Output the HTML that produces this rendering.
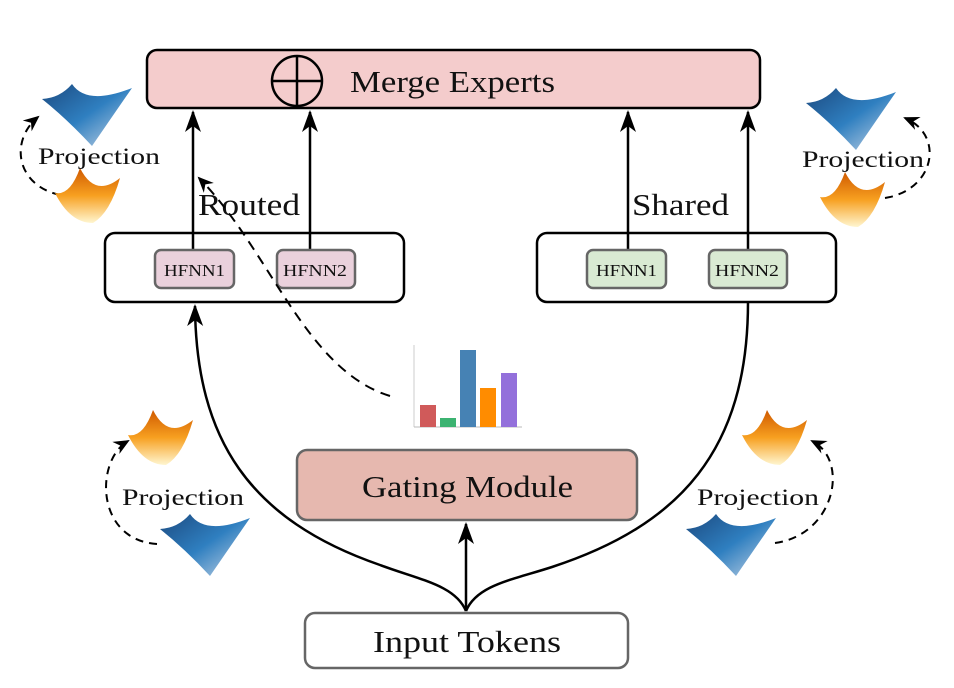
<!DOCTYPE html>
<html><head><meta charset="utf-8"><style>
html,body{margin:0;padding:0;background:#fff}
svg{display:block}
text{font-family:"Liberation Serif",serif;fill:#111}
</style></head><body>
<svg width="954" height="688" viewBox="0 0 954 688" xmlns="http://www.w3.org/2000/svg">
<defs>
<linearGradient id="gb" x1="0" y1="0" x2="1" y2="1">
<stop offset="0" stop-color="#1c4a80"/><stop offset="0.5" stop-color="#2f7fc0"/><stop offset="1" stop-color="#c9d6e6"/></linearGradient>
<linearGradient id="go" x1="0" y1="0" x2="0" y2="1">
<stop offset="0" stop-color="#d05a00"/><stop offset="0.5" stop-color="#f7a020"/><stop offset="1" stop-color="#fff6d0"/></linearGradient>
<marker id="ar" markerWidth="24" markerHeight="18" refX="20" refY="9" orient="auto" markerUnits="userSpaceOnUse">
<path d="M0,1 L22,9 L0,17 L6,9Z" fill="#000"/></marker>
<marker id="ad" markerWidth="18" markerHeight="16" refX="14" refY="8" orient="auto" markerUnits="userSpaceOnUse">
<path d="M0,1 L16,8 L0,15 L5,8Z" fill="#000"/></marker>
<path id="blue" d="M0,15 Q18,14 30,0 Q45,22 90,4 Q72,30 50,62 Q25,35 0,15Z" fill="url(#gb)"/>
<path id="org" d="M0,25 Q15,28 25,0 Q40,30 65,10 Q55,45 38,55 Q15,55 0,25Z" fill="url(#go)"/>
</defs>

<rect x="147" y="50" width="613" height="58" rx="10" fill="#f4cccc" stroke="#000" stroke-width="2.5"/>
<circle cx="297" cy="81" r="25" fill="none" stroke="#000" stroke-width="2.5"/>
<line x1="272" y1="81" x2="322" y2="81" stroke="#000" stroke-width="2.5"/>
<line x1="297" y1="56" x2="297" y2="106" stroke="#000" stroke-width="2.5"/>
<text x="350" y="92" font-size="31" textLength="205" lengthAdjust="spacingAndGlyphs">Merge Experts</text>

<g stroke="#000" stroke-width="2.5">
<line x1="193" y1="250" x2="193" y2="112" marker-end="url(#ar)"/>
<line x1="310" y1="250" x2="310" y2="112" marker-end="url(#ar)"/>
<line x1="628" y1="250" x2="628" y2="112" marker-end="url(#ar)"/>
<line x1="748" y1="250" x2="748" y2="112" marker-end="url(#ar)"/>
</g>
<text x="198" y="215" font-size="31" textLength="102" lengthAdjust="spacingAndGlyphs">Routed</text>
<text x="632" y="215" font-size="31" textLength="97" lengthAdjust="spacingAndGlyphs">Shared</text>

<rect x="105" y="233" width="299" height="69" rx="10" fill="none" stroke="#000" stroke-width="2.5"/>
<rect x="537" y="233" width="299" height="69" rx="10" fill="none" stroke="#000" stroke-width="2.5"/>
<g stroke="#666" stroke-width="2.5">
<rect x="155" y="250" width="79" height="38" rx="6" fill="#ead1dc"/>
<rect x="277" y="250" width="78" height="38" rx="6" fill="#ead1dc"/>
<rect x="587" y="250" width="79" height="38" rx="6" fill="#d9ead3"/>
<rect x="709" y="250" width="78" height="38" rx="6" fill="#d9ead3"/>
</g>
<g font-size="17">
<text x="164" y="276" textLength="61" lengthAdjust="spacingAndGlyphs">HFNN1</text>
<text x="283" y="276" textLength="64" lengthAdjust="spacingAndGlyphs">HFNN2</text>
<text x="596" y="276" textLength="61" lengthAdjust="spacingAndGlyphs">HFNN1</text>
<text x="715" y="276" textLength="64" lengthAdjust="spacingAndGlyphs">HFNN2</text>
</g>

<rect x="297" y="450" width="340" height="70" rx="10" fill="#e6b8af" stroke="#666" stroke-width="2.5"/>
<text x="362" y="497" font-size="31" textLength="211" lengthAdjust="spacingAndGlyphs">Gating Module</text>
<rect x="305" y="613" width="323" height="55" rx="10" fill="#fff" stroke="#666" stroke-width="2.5"/>
<text x="373" y="652" font-size="31" textLength="188" lengthAdjust="spacingAndGlyphs">Input Tokens</text>

<g fill="none" stroke="#000" stroke-width="2.5">
<path d="M466,611 C455,585 420,580 380,565 C250,520 196,440 195,306" marker-end="url(#ar)"/>
<path d="M466,611 C477,585 512,580 552,567 C680,525 748,450 748,302"/>
<line x1="466" y1="611" x2="466" y2="524" marker-end="url(#ar)"/>
<path d="M390,396 C305,370 270,250 199,178" stroke-width="2" stroke-dasharray="10,7" marker-end="url(#ad)"/>
</g>

<line x1="414" y1="345" x2="414" y2="427" stroke="#ccc" stroke-width="1"/>
<line x1="414" y1="427" x2="522" y2="427" stroke="#bbb" stroke-width="1"/>
<rect x="420" y="405" width="16" height="22" fill="#d05a5a"/>
<rect x="440" y="418" width="16" height="9" fill="#3cb371"/>
<rect x="460" y="350" width="16" height="77" fill="#4682b4"/>
<rect x="480" y="388" width="16" height="39" fill="#ff8c00"/>
<rect x="501" y="373" width="16" height="54" fill="#9370db"/>

<g fill="none" stroke="#000" stroke-width="2" stroke-dasharray="8,6">
<path d="M60,195 C15,185 10,140 38,117" marker-end="url(#ad)"/>
<path d="M885,198 C935,190 945,135 905,118" marker-end="url(#ad)"/>
<path d="M157,544 C95,540 95,460 128,441" marker-end="url(#ad)"/>
<path d="M775,543 C835,535 850,460 812,441" marker-end="url(#ad)"/>
</g>
<use href="#blue" transform="translate(42,84)"/>
<use href="#org" transform="translate(55,168)"/>
<text x="38" y="164" font-size="23" textLength="122" lengthAdjust="spacingAndGlyphs">Projection</text>
<use href="#blue" transform="translate(806,88)"/>
<use href="#org" transform="translate(820,172)"/>
<text x="802" y="167" font-size="23" textLength="122" lengthAdjust="spacingAndGlyphs">Projection</text>
<use href="#org" transform="translate(128,410)"/>
<use href="#blue" transform="translate(160,514)"/>
<text x="122" y="505" font-size="23" textLength="122" lengthAdjust="spacingAndGlyphs">Projection</text>
<use href="#org" transform="translate(742,410)"/>
<use href="#blue" transform="translate(686,514)"/>
<text x="697" y="505" font-size="23" textLength="122" lengthAdjust="spacingAndGlyphs">Projection</text>
</svg>
</body></html>
